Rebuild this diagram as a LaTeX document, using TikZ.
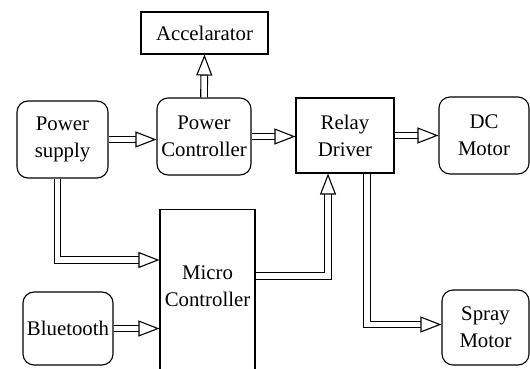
\documentclass[tikz,border=0pt]{standalone}
\usepackage{fontspec}
\setmainfont{Liberation Serif}
\usetikzlibrary{arrows.meta}
\begin{document}
\begin{tikzpicture}[x=1pt, y=-1pt,
    every node/.style={font=\fontsize{20.8}{27}\selectfont, align=center, inner sep=0pt},
    block/.style={draw, line width=1.1pt},
    rblock/.style={draw, line width=1.1pt, rounded corners=11pt},
    conn/.style={double, double distance=5.5pt, line width=1.1pt, -{Triangle[open, length=21pt, width=16pt]}}]
            \useasboundingbox (0,0) rectangle (530,369);
            % blocks
            \node[block, minimum width=127pt, minimum height=42pt] (acc) at (204.5,33) {Accelarator};
            \node[rblock, minimum width=91pt, minimum height=77pt] (ps) at (62.5,139.5) {Power\\supply};
            \node[rblock, minimum width=94pt, minimum height=77pt] (pc) at (204,136.5) {Power\\Controller};
            \node[block, minimum width=98pt, minimum height=75pt] (rd) at (345,135.5) {Relay\\Driver};
            \node[rblock, minimum width=90pt, minimum height=77pt] (dc) at (484,135.5) {DC\\Motor};
            \node[block, minimum width=95pt, minimum height=180pt, anchor=north] (mc) at (207.5,209) {};
            \node (mclabel) at ([yshift=-77pt]mc.north) {Micro\\Controller};
            \node[rblock, minimum width=90pt, minimum height=73pt] (bt) at (68,328.5) {Bluetooth};
            \node[rblock, minimum width=87pt, minimum height=75pt] (sm) at (485.5,327.5) {Spray\\Motor};
            % arrows
            \draw[conn] (ps.east) -- (ps.east -| pc.west);
            \draw[conn] (pc.north) -- (acc.south);
            \draw[conn] (pc.east) -- (pc.east -| rd.west);
            \draw[conn] (rd.east) -- (rd.east -| dc.west);
            \draw[conn] ([xshift=-5pt]ps.south) |- ([yshift=-51pt]mc.north west);
            \draw[conn] (bt.east) -- (bt.east -| mc.west);
            \draw[conn] ([yshift=-67pt]mc.north east) -| ([xshift=-17pt]rd.south);
            \draw[conn] ([xshift=22pt]rd.south) |- ([yshift=3pt]sm.west);
\end{tikzpicture}
\end{document}
